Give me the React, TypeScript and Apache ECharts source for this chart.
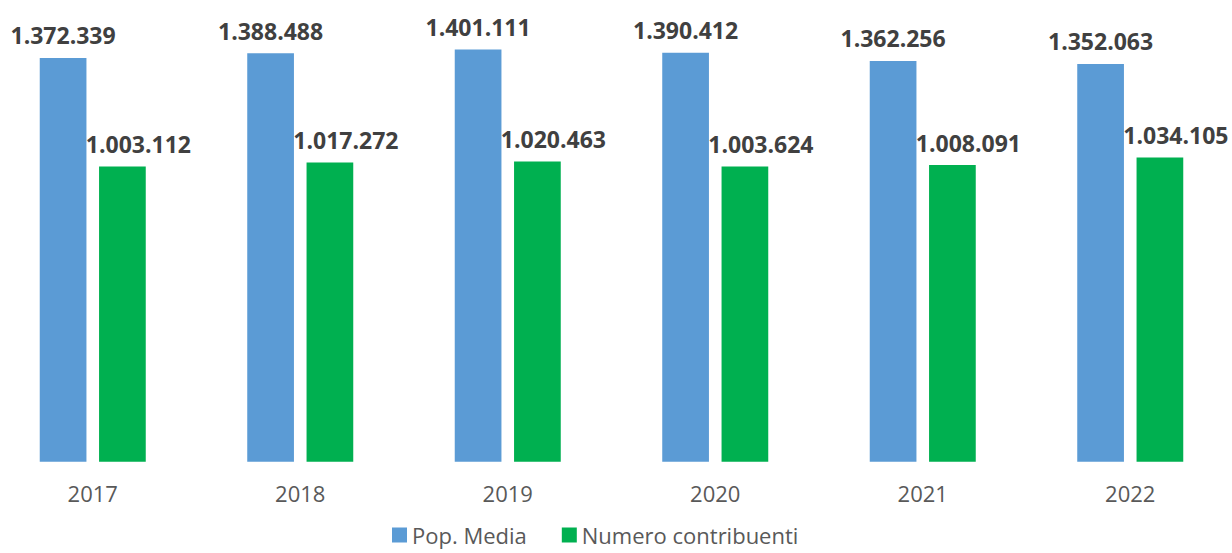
import React, { useEffect, useRef } from "react";
import * as echarts from "echarts";

const years = ["2017", "2018", "2019", "2020", "2021", "2022"];
const popMedia = [1372339, 1388488, 1401111, 1390412, 1362256, 1352063];
const contribuenti = [1003112, 1017272, 1020463, 1003624, 1008091, 1034105];
const seriesNames = ["Pop. Media", "Numero contribuenti"];

const fmt = (v: number) => String(Math.round(v)).replace(/\B(?=(\d{3})+(?!\d))/g, ".");

export default function App() {
  const ref = useRef<HTMLDivElement>(null);
  useEffect(() => {
    const chart = echarts.init(ref.current!, null, { renderer: "svg" });
    const font = "'Open Sans', sans-serif";
    chart.setOption({
      animation: false,
      backgroundColor: "#ffffff",
      grid: { left: 0, width: 1245, top: 20.4, bottom: 91.3, containLabel: false },
      legend: {
        left: 403,
        top: 522,
        padding: 0,
        itemWidth: 15,
        itemHeight: 15,
        itemGap: 35,
        icon: "rect",
        textStyle: { fontFamily: font, fontSize: 22, color: "#595959", lineHeight: 26 },
        data: seriesNames,
      },
      xAxis: {
        type: "category",
        data: years,
        axisLine: { show: false },
        axisTick: { show: false },
        axisLabel: { fontFamily: font, fontSize: 22, color: "#595959", margin: 20 },
      },
      yAxis: {
        type: "value",
        min: 0,
        max: 1500000,
        show: false,
        splitLine: { show: false },
      },
      series: [
        {
          name: seriesNames[0],
          type: "bar",
          data: popMedia,
          barWidth: 46.7,
          barGap: "27%",
          itemStyle: { color: "#5B9BD5" },
          label: {
            show: true,
            position: "top",
            distance: 11,
            formatter: (p: any) => fmt(p.value),
            fontFamily: font,
            fontSize: 23,
            fontWeight: "bold",
            color: "#404040",
          },
        },
        {
          name: seriesNames[1],
          type: "bar",
          data: contribuenti,
          barWidth: 46.7,
          itemStyle: { color: "#00B050" },
          label: {
            show: true,
            position: "top",
            distance: 11,
            offset: [16, 0],
            formatter: (p: any) => fmt(p.value),
            fontFamily: font,
            fontSize: 23,
            fontWeight: "bold",
            color: "#404040",
          },
        },
      ],
    });
    return () => chart.dispose();
  }, []);
  return (
    <div
      ref={ref}
      style={{ position: "fixed", left: -11, top: 0, width: 1254, height: 553 }}
    />
  );
}
